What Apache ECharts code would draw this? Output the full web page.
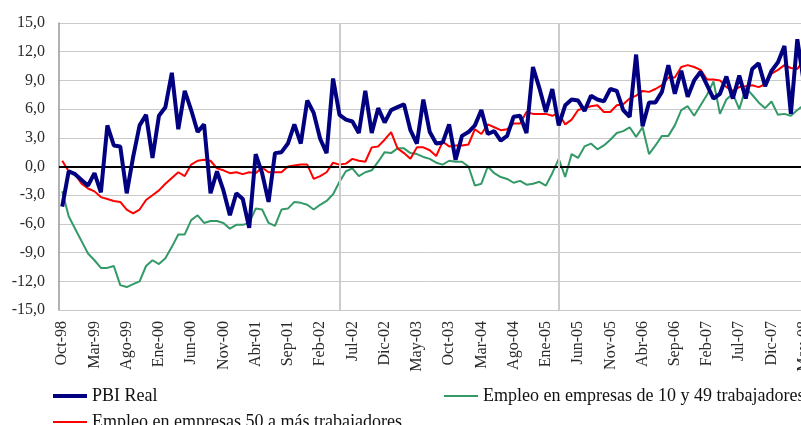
<!DOCTYPE html>
<html>
<head>
<meta charset="utf-8">
<script src="https://cdn.jsdelivr.net/npm/echarts@6/dist/echarts.min.js"></script>
<style>
  html, body { margin: 0; padding: 0; background: #fff; }
  #chart { width: 801px; height: 425px; }
</style>
</head>
<body>
<div id="chart"></div>
<script>
// Meses (abreviaturas como en el original) y periodo Oct-98 ... May-08
const meses = ['Ene', 'Feb', 'Mar', 'Abr', 'May', 'Jun', 'Jul', 'Ago', 'Sep', 'Oct', 'Nov', 'Dic'];
const anios = ['98', '99', '00', '01', '02', '03', '04', '05', '06', '07', '08'];

const categorias = [];
anios.forEach((a, k) => {
  meses.forEach((m, j) => {
    if (k === 0 && j < 9) return;          // empieza en Oct-98
    if (k === anios.length - 1 && j > 4) return; // termina en May-08
    categorias.push(m + '-' + a);
  });
});

// PBI Real (var. % anual)
const pbiReal = [
  -4.2, -0.5, -0.8, -1.4, -2.0, -0.7, -2.7, 4.3, 2.2, 2.1,
  -2.8, 1.0, 4.3, 5.4, 0.9, 5.3, 6.2, 9.8, 3.9, 7.9,
  5.9, 3.6, 4.4, -2.8, -0.5, -2.5, -5.1, -2.8, -3.4, -6.4,
  1.3, -0.7, -3.7, 1.4, 1.5, 2.4, 4.4, 2.4, 6.9, 5.6,
  2.9, 1.4, 9.2, 5.4, 4.9, 4.7, 3.5, 7.9, 3.5, 6.1,
  4.6, 5.9, 6.2, 6.5, 3.8, 2.4, 7.0, 3.6, 2.4, 2.5,
  4.4, 0.7, 3.2, 3.6, 4.3, 5.9, 3.4, 3.7, 2.7, 3.2,
  5.2, 5.3, 3.5, 10.4, 8.2, 5.7, 8.1, 4.3, 6.4, 7.0,
  6.9, 5.8, 7.4, 7.0, 6.8, 8.1, 7.9, 5.9, 5.2, 11.7,
  4.2, 6.7, 6.7, 7.8, 10.6, 7.6, 10.0, 7.3, 9.0, 9.9,
  8.5, 7.1, 7.6, 9.4, 7.1, 9.5, 7.1, 10.2, 10.8, 8.4,
  10.0, 10.9, 12.6, 5.5, 13.3, 8.8
];

// Empleo en empresas de 10 y 49 trabajadores
const empleo10a49 = [
  -2.6, -5.2, -6.5, -7.8, -9.1, -9.8, -10.6, -10.6, -10.4, -12.4,
  -12.6, -12.3, -12.0, -10.4, -9.8, -10.2, -9.6, -8.4, -7.1, -7.1,
  -5.6, -5.1, -5.9, -5.7, -5.7, -5.9, -6.5, -6.1, -6.1, -5.9,
  -4.4, -4.5, -5.9, -6.2, -4.5, -4.4, -3.7, -3.8, -4.0, -4.5,
  -4.0, -3.6, -2.9, -1.6, -0.5, -0.2, -1.0, -0.6, -0.4, 0.5,
  1.5, 1.4, 1.9, 1.9, 1.4, 1.3, 1.0, 0.8, 0.4, 0.2,
  0.6, 0.5, 0.5, 0.0, -2.0, -1.8, 0.0, -0.7, -1.1, -1.3,
  -1.7, -1.5, -1.9, -1.8, -1.6, -2.0, -0.7, 0.8, -1.1, 1.3,
  0.9, 2.1, 2.4, 1.8, 2.2, 2.8, 3.5, 3.7, 4.1, 3.1,
  4.1, 1.3, 2.2, 3.2, 3.2, 4.3, 5.9, 6.3, 5.3, 6.4,
  7.5, 8.9, 5.5, 7.0, 7.6, 6.0, 8.2, 7.5, 6.7, 6.1,
  6.8, 5.4, 5.5, 5.3, 5.9, 6.4
];

// Empleo en empresas 50 a más trabajadores
const empleo50aMas = [
  0.6, -0.5, -0.8, -1.8, -2.3, -2.6, -3.2, -3.4, -3.6, -3.7,
  -4.5, -4.9, -4.5, -3.5, -3.0, -2.5, -1.8, -1.2, -0.6, -1.0,
  0.2, 0.6, 0.7, 0.6, -0.2, -0.4, -0.7, -0.6, -0.8, -0.6,
  -0.7, -0.1, -0.6, -0.6, -0.6, 0.0, 0.1, 0.2, 0.2, -1.3,
  -1.0, -0.6, 0.4, 0.2, 0.3, 0.8, 0.6, 0.5, 2.0, 2.1,
  2.8, 3.6, 1.9, 1.4, 0.8, 2.0, 2.0, 1.7, 1.1, 2.6,
  2.1, 2.2, 2.2, 2.3, 3.9, 3.4, 4.4, 4.1, 3.8, 3.9,
  4.5, 4.5, 5.7, 5.5, 5.5, 5.5, 5.3, 5.6, 4.4, 4.9,
  5.9, 6.1, 6.3, 6.4, 5.7, 5.7, 6.4, 6.5, 7.1, 7.4,
  7.9, 7.8, 8.1, 8.5, 9.3, 9.3, 10.4, 10.6, 10.4, 10.1,
  9.1, 9.1, 9.0, 8.3, 7.9, 8.3, 8.4, 8.5, 8.3, 8.6,
  9.7, 10.1, 10.6, 10.3, 10.2, 11.1
];

// lineas verticales de referencia
const cortes = ['May-02', 'Mar-05'];

const fuente = '"Liberation Serif", "DejaVu Serif", serif';

const chart = echarts.init(document.getElementById('chart'));

const option = {
  animation: false,
  grid: {
    left: 59,
    top: 23,
    width: 748,
    height: 287,
    containLabel: false,
    outerBoundsMode: 'none'
  },
  legend: [
    {
      left: 48, top: 382,
      itemWidth: 34, itemHeight: 4, itemGap: 6,
      icon: 'rect',
      textStyle: { fontFamily: fuente, fontSize: 18, color: '#111' },
      data: ['PBI Real']
    },
    {
      left: 439, top: 382,
      itemWidth: 34, itemHeight: 2, itemGap: 6,
      icon: 'rect',
      textStyle: { fontFamily: fuente, fontSize: 18, color: '#111' },
      data: ['Empleo en empresas de 10 y 49 trabajadores']
    },
    {
      left: 48, top: 408,
      itemWidth: 34, itemHeight: 2, itemGap: 6,
      icon: 'rect',
      textStyle: { fontFamily: fuente, fontSize: 18, color: '#111' },
      data: ['Empleo en empresas 50 a más trabajadores']
    }
  ],
  xAxis: {
    type: 'category',
    data: categorias,
    boundaryGap: true,
    axisLine: { onZero: false, lineStyle: { color: '#c8c8c8', width: 1 } },
    axisTick: { show: false },
    axisLabel: {
      interval: 4,
      rotate: 90,
      margin: 11,
      fontFamily: fuente,
      fontSize: 16,
      color: '#2a2a2a'
    },
    splitLine: { show: false }
  },
  yAxis: {
    type: 'value',
    min: -15,
    max: 15,
    interval: 3,
    axisLine: { show: true, lineStyle: { color: '#999', width: 1.5 } },
    axisTick: { show: false },
    axisLabel: {
      margin: 14,
      fontFamily: fuente,
      fontSize: 16,
      color: '#2a2a2a',
      formatter: v => v.toFixed(1).replace('.', ',')
    },
    splitLine: { lineStyle: { color: '#cacaca', width: 1 } }
  },
  series: [
    {
      name: 'PBI Real',
      type: 'line',
      data: pbiReal,
      symbol: 'none',
      z: 5,
      lineStyle: { color: '#000080', width: 4 },
      itemStyle: { color: '#000080' },
      markLine: {
        silent: true,
        symbol: 'none',
        label: { show: false },
        animation: false,
        data: [
          { yAxis: 0, lineStyle: { color: '#000', width: 2, type: 'solid' } },
          ...cortes.map(c => ({ xAxis: c, lineStyle: { color: '#cccccc', width: 2, type: 'solid' } }))
        ]
      }
    },
    {
      name: 'Empleo en empresas de 10 y 49 trabajadores',
      type: 'line',
      data: empleo10a49,
      symbol: 'none',
      z: 3,
      lineStyle: { color: '#339966', width: 2 },
      itemStyle: { color: '#339966' }
    },
    {
      name: 'Empleo en empresas 50 a más trabajadores',
      type: 'line',
      data: empleo50aMas,
      symbol: 'none',
      z: 4,
      lineStyle: { color: '#ff0000', width: 2 },
      itemStyle: { color: '#ff0000' }
    }
  ]
};

chart.setOption(option);
</script>
</body>
</html>
